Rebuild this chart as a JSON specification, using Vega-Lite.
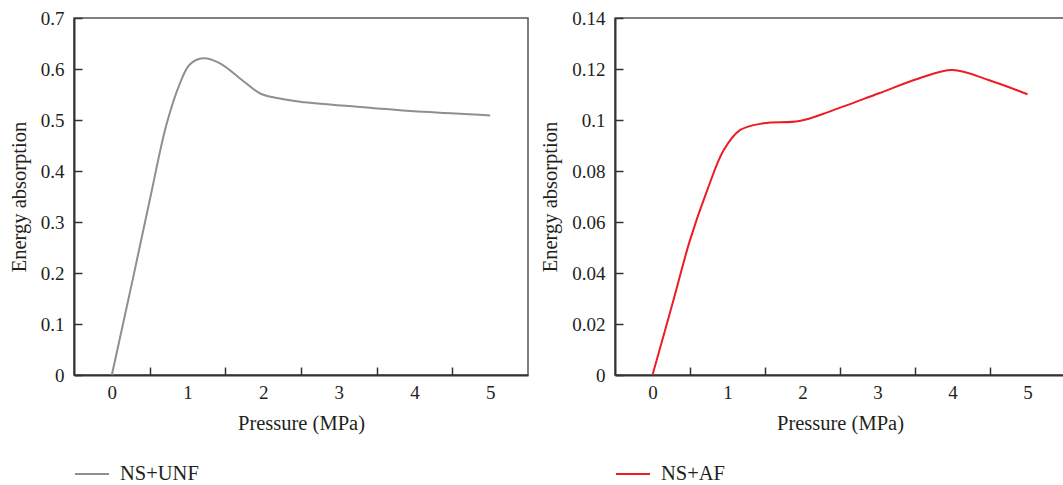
{
  "$schema": "https://vega.github.io/schema/vega-lite/v6.json",
  "padding": {"left": 8, "top": 8, "right": 0, "bottom": 0},
  "spacing": 11,
  "config": {
    "font": "Liberation Serif",
    "view": {"stroke": "#555555", "strokeWidth": 1.5},
    "axis": {
      "labelFont": "Liberation Serif",
      "labelFontSize": 19,
      "labelColor": "#231f20",
      "titleFont": "Liberation Serif",
      "titleFontSize": 20.5,
      "titleFontWeight": "normal",
      "titleColor": "#231f20",
      "domainColor": "#333333",
      "domainWidth": 2,
      "tickColor": "#333333",
      "tickWidth": 1.5,
      "tickSize": -8,
      "grid": false
    },
    "legend": {
      "labelFont": "Liberation Serif",
      "labelFontSize": 20.5,
      "labelColor": "#231f20"
    }
  },
  "resolve": {"scale": {"color": "independent"}, "legend": {"color": "independent"}},
  "hconcat": [
    {
      "width": 454,
      "height": 357,
      "data": {"values": [
        {"p": 0, "e": 0, "s": "NS+UNF"},
        {"p": 0.28, "e": 0.19, "s": "NS+UNF"},
        {"p": 0.5, "e": 0.342, "s": "NS+UNF"},
        {"p": 0.72, "e": 0.49, "s": "NS+UNF"},
        {"p": 0.9, "e": 0.572, "s": "NS+UNF"},
        {"p": 1.03, "e": 0.609, "s": "NS+UNF"},
        {"p": 1.21, "e": 0.621, "s": "NS+UNF"},
        {"p": 1.43, "e": 0.611, "s": "NS+UNF"},
        {"p": 1.69, "e": 0.582, "s": "NS+UNF"},
        {"p": 1.96, "e": 0.552, "s": "NS+UNF"},
        {"p": 2.18, "e": 0.543, "s": "NS+UNF"},
        {"p": 2.49, "e": 0.536, "s": "NS+UNF"},
        {"p": 3.24, "e": 0.526, "s": "NS+UNF"},
        {"p": 4.12, "e": 0.516, "s": "NS+UNF"},
        {"p": 5, "e": 0.509, "s": "NS+UNF"}
      ]},
      "mark": {"type": "line", "interpolate": "catmull-rom", "strokeWidth": 2},
      "encoding": {
        "x": {
          "field": "p", "type": "quantitative",
          "scale": {"domain": [-0.5, 5.5], "nice": false, "zero": false},
          "axis": {
            "title": "Pressure (MPa)",
            "values": [0, 0.5, 1, 1.5, 2, 2.5, 3, 3.5, 4, 4.5, 5],
            "format": "~g",
            "labelExpr": "datum.value % 1 === 0 ? datum.label : ''",
            "tickOpacity": {"condition": {"test": "datum.value % 1 !== 0", "value": 1}, "value": 0},
            "labelPadding": 16,
            "titlePadding": 11
          }
        },
        "y": {
          "field": "e", "type": "quantitative",
          "scale": {"domain": [0, 0.7], "nice": false},
          "axis": {
            "title": "Energy absorption",
            "values": [0, 0.1, 0.2, 0.3, 0.4, 0.5, 0.6, 0.7],
            "format": "~g",
            "labelPadding": 18,
            "titlePadding": 11
          }
        },
        "color": {
          "field": "s", "type": "nominal",
          "scale": {"range": ["#8f8f8f"]},
          "legend": {
            "orient": "none", "legendX": 0, "legendY": 438,
            "title": null, "symbolType": "stroke", "symbolSize": 1156,
            "symbolStrokeWidth": 2, "labelOffset": 10
          }
        }
      }
    },
    {
      "width": 450,
      "height": 357,
      "data": {"values": [
        {"p": 0, "e": 0, "s": "NS+AF"},
        {"p": 0.28, "e": 0.0294, "s": "NS+AF"},
        {"p": 0.5, "e": 0.0529, "s": "NS+AF"},
        {"p": 0.73, "e": 0.0725, "s": "NS+AF"},
        {"p": 0.95, "e": 0.0882, "s": "NS+AF"},
        {"p": 1.17, "e": 0.0961, "s": "NS+AF"},
        {"p": 1.48, "e": 0.0987, "s": "NS+AF"},
        {"p": 1.96, "e": 0.0996, "s": "NS+AF"},
        {"p": 2.36, "e": 0.1033, "s": "NS+AF"},
        {"p": 3.02, "e": 0.1105, "s": "NS+AF"},
        {"p": 3.55, "e": 0.1163, "s": "NS+AF"},
        {"p": 4.0, "e": 0.1196, "s": "NS+AF"},
        {"p": 4.48, "e": 0.1157, "s": "NS+AF"},
        {"p": 5, "e": 0.1101, "s": "NS+AF"}
      ]},
      "mark": {"type": "line", "interpolate": "catmull-rom", "strokeWidth": 2},
      "encoding": {
        "x": {
          "field": "p", "type": "quantitative",
          "scale": {"domain": [-0.5, 5.5], "nice": false, "zero": false},
          "axis": {
            "title": "Pressure (MPa)",
            "values": [0, 0.5, 1, 1.5, 2, 2.5, 3, 3.5, 4, 4.5, 5],
            "format": "~g",
            "labelExpr": "datum.value % 1 === 0 ? datum.label : ''",
            "tickOpacity": {"condition": {"test": "datum.value % 1 !== 0", "value": 1}, "value": 0},
            "labelPadding": 16,
            "titlePadding": 11
          }
        },
        "y": {
          "field": "e", "type": "quantitative",
          "scale": {"domain": [0, 0.14], "nice": false},
          "axis": {
            "title": "Energy absorption",
            "values": [0, 0.02, 0.04, 0.06, 0.08, 0.1, 0.12, 0.14],
            "format": "~g",
            "labelPadding": 18,
            "titlePadding": 11
          }
        },
        "color": {
          "field": "s", "type": "nominal",
          "scale": {"range": ["#ed1c24"]},
          "legend": {
            "orient": "none", "legendX": 0, "legendY": 438,
            "title": null, "symbolType": "stroke", "symbolSize": 1156,
            "symbolStrokeWidth": 2, "labelOffset": 10
          }
        }
      }
    }
  ]
}
